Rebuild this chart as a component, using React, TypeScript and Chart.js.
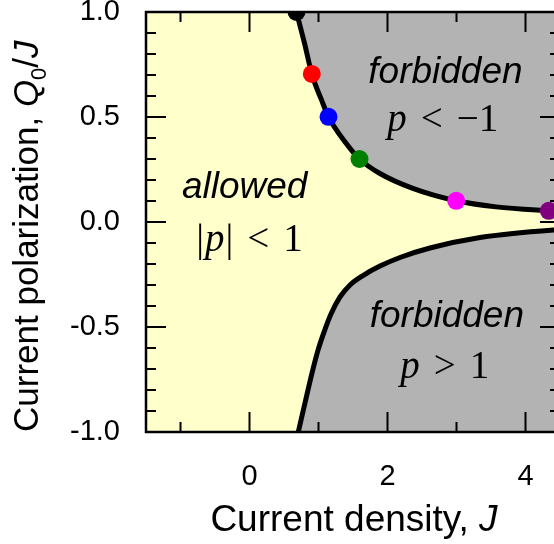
import React, { useEffect, useRef } from 'react';
import { Chart, registerables } from 'chart.js';

Chart.register(...registerables);

// ---- data ----
const upperJ = [0.61, 0.681, 0.797, 0.903, 1.045, 1.145, 1.40, 1.594, 1.884, 2.367, 2.996, 3.575, 4.338, 4.6];
const upperQ = [1.1, 1.0, 0.852, 0.705, 0.58, 0.501, 0.375, 0.30, 0.232, 0.160, 0.101, 0.072, 0.053, 0.048];

const lowerJ = [0.64, 0.707, 0.804, 0.906, 0.993, 1.080, 1.181, 1.312, 1.457, 1.645, 1.891, 2.181, 2.616, 3.341, 4.413, 4.6];
const lowerQ = [-1.1, -1.0, -0.862, -0.719, -0.610, -0.524, -0.438, -0.357, -0.300, -0.255, -0.210, -0.169, -0.124, -0.074, -0.038, -0.035];

const dotJ = [0.681, 0.903, 1.145, 1.594, 2.996, 4.338];
const dotQ = [1.0, 0.705, 0.501, 0.30, 0.101, 0.053];
const dotColors = ['#000000', '#ff0000', '#0000ff', '#008000', '#ff00ff', '#800080'];

const xTickValues = [-1, 0, 1, 2, 3, 4];
const xLabeledTicks = [0, 2, 4];
const yLabeledTicks = [-1.0, -0.5, 0.0, 0.5, 1.0];

const xTitle = 'Current density, ';
const xTitleVar = 'J';
const yTitle = 'Current polarization, ';

// annotation anchors in data coordinates (center x, baseline y)
const regionLabels = [
  { J: 2.84, Q: 0.662, kind: 'word', text: 'forbidden' },
  { J: 2.80, Q: 0.433, kind: 'math', text: 'p<-1' },
  { J: -0.07, Q: 0.114, kind: 'word', text: 'allowed' },
  { J: 0.0, Q: -0.138, kind: 'math', text: '|p|<1' },
  { J: 2.86, Q: -0.50, kind: 'word', text: 'forbidden' },
  { J: 2.83, Q: -0.743, kind: 'math', text: 'p>1' },
];

const SANS = '"Liberation Sans", Arial, sans-serif';
const SERIF = '"Liberation Serif", "Times New Roman", serif';
const YELLOW = '#ffffcc';
const GREY = '#b3b3b3';

type Seg = { t: string; font: string; dy?: number; gap?: number };

function segWidth(ctx: CanvasRenderingContext2D, segs: Seg[]) {
  let w = 0;
  segs.forEach((s) => {
    ctx.font = s.font;
    w += (s.gap || 0) + ctx.measureText(s.t).width;
  });
  return w;
}

function drawSegs(ctx: CanvasRenderingContext2D, segs: Seg[], x0: number, baseline: number) {
  let x = x0;
  segs.forEach((s) => {
    x += s.gap || 0;
    ctx.font = s.font;
    ctx.fillText(s.t, x, baseline + (s.dy || 0));
    x += ctx.measureText(s.t).width;
  });
}

function mathSegs(code: string): Seg[] {
  const up = `39px ${SERIF}`;
  const it = `italic 39px ${SERIF}`;
  const g = 14;
  if (code === 'p<-1') return [{ t: 'p', font: it }, { t: '<', font: up, gap: g }, { t: '\u22121', font: up, gap: g }];
  if (code === 'p>1') return [{ t: 'p', font: it }, { t: '>', font: up, gap: g }, { t: '1', font: up, gap: g }];
  return [
    { t: '|', font: up },
    { t: 'p', font: it, gap: 1 },
    { t: '|', font: up, gap: 1 },
    { t: '<', font: up, gap: g },
    { t: '1', font: up, gap: g },
  ];
}

const bgPlugin = {
  id: 'bgPlugin',
  beforeDatasetsDraw(chart: any) {
    const { ctx, chartArea: a } = chart;
    ctx.save();
    ctx.fillStyle = YELLOW;
    ctx.fillRect(a.left, a.top, a.right - a.left, a.bottom - a.top);
    ctx.restore();
  },
};

const overlayPlugin = {
  id: 'overlayPlugin',
  afterDatasetsDraw(chart: any) {
    const { ctx, chartArea: a, scales } = chart;
    const xs = scales.x;
    const ys = scales.y;
    ctx.save();

    // region labels
    ctx.fillStyle = '#000';
    ctx.textBaseline = 'alphabetic';
    ctx.textAlign = 'left';
    regionLabels.forEach((r) => {
      const cx = xs.getPixelForValue(r.J);
      const by = ys.getPixelForValue(r.Q);
      const segs: Seg[] = r.kind === 'word' ? [{ t: r.text, font: `italic 37px ${SANS}` }] : mathSegs(r.text);
      const w = segWidth(ctx, segs);
      drawSegs(ctx, segs, cx - w / 2, by);
    });

    // frame
    ctx.strokeStyle = '#000';
    ctx.lineWidth = 2.5;
    ctx.strokeRect(a.left, a.top, a.right - a.left, a.bottom - a.top);

    // inward ticks
    ctx.lineWidth = 2;
    ctx.beginPath();
    xs.ticks.forEach((t: any) => {
      const v = t.value;
      const major = xLabeledTicks.some((m) => Math.abs(m - v) < 1e-6);
      const len = major ? 20 : 10;
      const px = xs.getPixelForValue(v);
      ctx.moveTo(px, a.bottom);
      ctx.lineTo(px, a.bottom - len);
      ctx.moveTo(px, a.top);
      ctx.lineTo(px, a.top + len);
    });
    ys.ticks.forEach((t: any) => {
      const v = t.value;
      if (Math.abs(v) > 0.999) return;
      const major = yLabeledTicks.some((m) => Math.abs(m - v) < 1e-6);
      const len = major ? 20 : 10;
      const py = ys.getPixelForValue(v);
      ctx.moveTo(a.left, py);
      ctx.lineTo(a.left + len, py);
      ctx.moveTo(a.right, py);
      ctx.lineTo(a.right - len, py);
    });
    ctx.stroke();
    ctx.restore();
  },
  afterDraw(chart: any) {
    const { ctx, chartArea: a } = chart;
    ctx.save();
    ctx.fillStyle = '#000';
    ctx.textAlign = 'left';
    ctx.textBaseline = 'alphabetic';
    // x title
    const fx = 37;
    const xSegs: Seg[] = [
      { t: xTitle, font: `${fx}px ${SANS}` },
      { t: xTitleVar, font: `italic ${fx}px ${SANS}` },
    ];
    const w = segWidth(ctx, xSegs);
    const cx = 354;
    drawSegs(ctx, xSegs, cx - w / 2, 531);
    // y title, rotated
    const fy = 35;
    ctx.translate(38, a.bottom);
    ctx.rotate(-Math.PI / 2);
    const ySegs: Seg[] = [
      { t: yTitle, font: `${fy}px ${SANS}` },
      { t: 'Q', font: `italic ${fy}px ${SANS}` },
      { t: '0', font: `${Math.round(fy * 0.62)}px ${SANS}`, dy: 8 },
      { t: '/', font: `${fy}px ${SANS}` },
      { t: 'J', font: `italic ${fy}px ${SANS}` },
    ];
    drawSegs(ctx, ySegs, 0, 0);
    ctx.restore();
  },
};

export default function App() {
  const ref = useRef<HTMLCanvasElement>(null);

  useEffect(() => {
    const canvas = ref.current;
    if (!canvas) return;

    const upper = upperJ.map((x, i) => ({ x, y: upperQ[i] }));
    const lower = lowerJ.map((x, i) => ({ x, y: lowerQ[i] }));
    const dots = dotJ.map((x, i) => ({ x, y: dotQ[i] }));

    const chart = new Chart(canvas, {
      type: 'line',
      data: {
        datasets: [
          {
            type: 'scatter',
            data: dots,
            pointRadius: 9,
            pointHoverRadius: 9,
            pointBackgroundColor: dotColors,
            pointBorderWidth: 0,
            borderWidth: 0,
            clip: 0,
          } as any,
          {
            data: upper,
            borderColor: '#000',
            borderWidth: 5,
            pointRadius: 0,
            fill: 'end',
            backgroundColor: GREY,
            cubicInterpolationMode: 'monotone',
            clip: 0,
          } as any,
          {
            data: lower,
            borderColor: '#000',
            borderWidth: 5,
            pointRadius: 0,
            fill: 'start',
            backgroundColor: GREY,
            cubicInterpolationMode: 'monotone',
            clip: 0,
          } as any,
        ],
      },
      options: {
        animation: false,
        responsive: false,
        devicePixelRatio: 1,
        events: [],
        layout: { padding: { top: 12, right: 20, left: 0, bottom: 0 }, autoPadding: false },
        plugins: { legend: { display: false }, tooltip: { enabled: false }, title: { display: false } },
        scales: {
          x: {
            type: 'linear',
            min: -1.5,
            max: 4.5,
            grid: { display: false, drawTicks: false },
            border: { display: false },
            afterBuildTicks: (s: any) => {
              s.ticks = xTickValues.map((v) => ({ value: v }));
            },
            ticks: {
              autoSkip: false,
              maxRotation: 0,
              padding: 28,
              color: '#000',
              font: { family: SANS, size: 29 },
              callback: (v: any) => (xLabeledTicks.some((m) => Math.abs(m - v) < 1e-6) ? String(Math.round(v)) : ''),
            },
            afterFit: (s: any) => {
              s.height = 112;
              s.paddingLeft = 0;
              s.paddingRight = 0;
              s.paddingTop = 0;
              s.paddingBottom = 0;
            },
          },
          y: {
            type: 'linear',
            min: -1,
            max: 1,
            grid: { display: false, drawTicks: false },
            border: { display: false },
            ticks: {
              stepSize: 0.1,
              autoSkip: false,
              padding: 26,
              color: '#000',
              font: { family: SANS, size: 29 },
              callback: (v: any) => (yLabeledTicks.some((m) => Math.abs(m - v) < 1e-6) ? Number(v).toFixed(1) : ''),
            },
            afterFit: (s: any) => {
              s.width = 146;
              s.paddingLeft = 0;
              s.paddingRight = 0;
              s.paddingTop = 0;
              s.paddingBottom = 0;
            },
          },
        },
      } as any,
      plugins: [bgPlugin, overlayPlugin],
    });

    return () => chart.destroy();
  }, []);

  return (
    <div
      style={{
        position: 'fixed',
        left: 0,
        top: 0,
        width: 554,
        height: 544,
        overflow: 'hidden',
        background: '#ffffff',
      }}
    >
      <canvas ref={ref} width={580} height={544} style={{ display: 'block', width: 580, height: 544 }} />
    </div>
  );
}
